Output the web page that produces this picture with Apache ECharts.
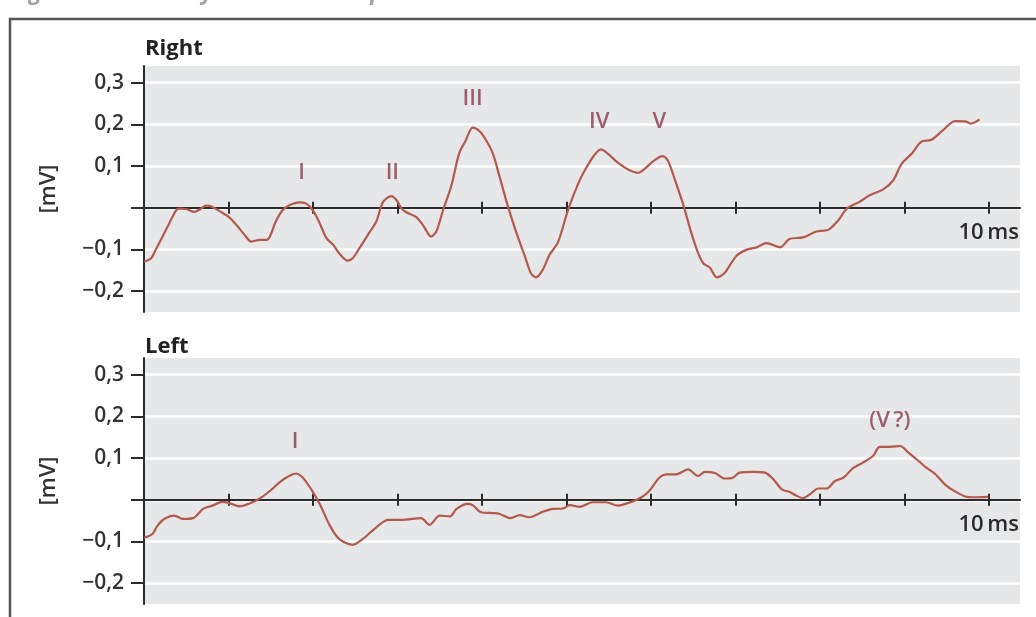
<!DOCTYPE html>
<html><head><meta charset="utf-8">
<script src="https://cdn.jsdelivr.net/npm/echarts@6/dist/echarts.min.js"></script>
<style>html,body{margin:0;padding:0;background:#fff}#c{width:1036px;height:617px}</style>
</head><body><div id="c"></div>
<script>
// ---- data (time in ms, amplitude in mV) ----
const rightTime = [0,0.085,0.14,0.22,0.30,0.38,0.42,0.5,0.6,0.66,0.74,0.81,0.91,1.01,1.11,1.19,1.27,1.37,1.45,1.49,1.56,1.64,1.72,1.84,1.92,2.0,2.08,2.16,2.24,2.31,2.41,2.47,2.55,2.65,2.75,2.83,2.93,2.99,3.05,3.10,3.22,3.30,3.40,3.46,3.54,3.64,3.73,3.81,3.89,3.97,4.05,4.13,4.21,4.31,4.41,4.51,4.58,4.64,4.72,4.80,4.90,5.02,5.14,5.23,5.33,5.41,5.49,5.61,5.73,5.85,5.93,6.03,6.14,6.20,6.28,6.38,6.48,6.56,6.62,6.70,6.78,6.87,7.01,7.13,7.25,7.37,7.53,7.64,7.80,7.96,8.10,8.22,8.32,8.47,8.59,8.75,8.87,8.97,9.09,9.20,9.32,9.46,9.60,9.72,9.79,9.89];
const rightMv = [-0.129,-0.121,-0.10,-0.069,-0.037,-0.006,-0.002,-0.003,-0.01,-0.004,0.005,0.002,-0.01,-0.023,-0.045,-0.065,-0.081,-0.077,-0.077,-0.069,-0.033,-0.006,0.006,0.013,0.01,-0.006,-0.037,-0.073,-0.089,-0.109,-0.127,-0.121,-0.097,-0.065,-0.033,0.014,0.028,0.018,-0.002,-0.01,-0.022,-0.041,-0.069,-0.057,-0.006,0.054,0.13,0.162,0.192,0.184,0.162,0.13,0.074,0.002,-0.061,-0.117,-0.157,-0.167,-0.149,-0.113,-0.083,-0.005,0.058,0.094,0.126,0.14,0.13,0.108,0.092,0.084,0.094,0.112,0.124,0.114,0.07,0.01,-0.061,-0.109,-0.133,-0.144,-0.167,-0.157,-0.116,-0.101,-0.095,-0.085,-0.095,-0.075,-0.071,-0.057,-0.053,-0.03,-0.002,0.014,0.03,0.044,0.066,0.106,0.13,0.158,0.163,0.186,0.208,0.207,0.202,0.212];

const leftTime = [0,0.10,0.16,0.24,0.36,0.46,0.58,0.70,0.81,0.93,1.01,1.13,1.25,1.37,1.49,1.60,1.70,1.80,1.88,1.98,2.08,2.20,2.29,2.37,2.47,2.59,2.75,2.89,3.06,3.28,3.38,3.50,3.62,3.70,3.83,3.89,3.99,4.13,4.21,4.33,4.45,4.56,4.72,4.84,4.96,5.04,5.16,5.31,5.47,5.61,5.77,5.89,5.98,6.10,6.18,6.30,6.44,6.56,6.64,6.76,6.87,6.97,7.05,7.21,7.35,7.45,7.55,7.64,7.72,7.80,7.90,7.98,8.08,8.18,8.28,8.39,8.51,8.63,8.71,8.83,8.95,9.05,9.17,9.26,9.36,9.48,9.60,9.72,9.81,9.99];
const leftMv = [-0.091,-0.082,-0.062,-0.046,-0.038,-0.046,-0.044,-0.022,-0.014,-0.005,-0.008,-0.016,-0.009,0.003,0.021,0.041,0.055,0.063,0.053,0.025,-0.01,-0.062,-0.09,-0.102,-0.108,-0.094,-0.066,-0.048,-0.048,-0.044,-0.06,-0.038,-0.04,-0.022,-0.01,-0.013,-0.03,-0.032,-0.034,-0.044,-0.037,-0.042,-0.029,-0.022,-0.021,-0.013,-0.017,-0.006,-0.006,-0.014,-0.005,0.006,0.021,0.053,0.061,0.061,0.073,0.057,0.067,0.064,0.051,0.053,0.065,0.067,0.065,0.049,0.025,0.019,0.01,0.004,0.016,0.027,0.027,0.045,0.053,0.075,0.089,0.105,0.127,0.127,0.129,0.113,0.093,0.077,0.063,0.037,0.02,0.008,0.006,0.007];

// wave annotations: label, time (ms), amplitude (mV) of label centre
const rightWaveNames = ['I','II','III','IV','V'];
const rightWaveTime  = [1.865, 2.94, 3.89, 5.39, 6.10];
const rightWaveMv    = [0.085, 0.085, 0.262, 0.207, 0.207];
const leftWaveNames = ['I','(V\u2009?)'];
const leftWaveTime  = [1.79, 8.83];
const leftWaveMv    = [0.139, 0.19];

const yTickValues  = [-0.2,-0.1,0,0.1,0.2,0.3];
const yLabelValues = [-0.2,-0.1,0.1,0.2,0.3];
const xTickValues  = [1,2,3,4,5,6,7,8,9,10];
const xLabelValues = [10];
const panelTitles = ['Right','Left'];
const yName = '[mV]';
const xUnit = 'ms';
const figNo = 'Fig.';
const figTitle = 'Auditory brainstem response in retrocochlear disorders';

// ---- build ----
const zip = (a,b) => a.map((v,i) => [v, b[i]]);
const FONT = "'Open Sans', sans-serif";
const INK = '#2b2b2b';
const TRACE = '#b4594d';
const WAVE = '#8a3a4a';
const Y_MIN = -0.25, Y_MAX = 0.34, X_MIN = 0, X_MAX = 10.37;

const grids = [
  {left:144, top:66, width:876, height:246},
  {left:144, top:358, width:876, height:246}
].map(g => Object.assign(g, {show:true, backgroundColor:'#e6e7e9', borderWidth:0}));

// offset that puts a bottom x axis on the y = 0 line of its grid
const zeroOffset = g => -g.height * (0 - Y_MIN) / (Y_MAX - Y_MIN);

const xAxes = [];
grids.forEach((g, gi) => {
  xAxes.push({
    type:'value', gridIndex:gi, min:X_MIN, max:X_MAX, position:'bottom', offset:zeroOffset(g),
    axisLine:{show:true, onZero:false, lineStyle:{color:INK, width:2}},
    axisTick:{show:true, customValues:xTickValues, length:6, inside:false, lineStyle:{color:INK, width:2}},
    axisLabel:{show:true, customValues:xLabelValues, formatter: v => v + '\u2009' + xUnit,
      margin:14, color:INK, fontSize:22, fontWeight:600, fontFamily:FONT},
    splitLine:{show:false}
  });
  xAxes.push({
    type:'value', gridIndex:gi, min:X_MIN, max:X_MAX, position:'bottom', offset:zeroOffset(g),
    axisLine:{show:false, onZero:false},
    axisTick:{show:true, customValues:xTickValues, length:6, inside:true, lineStyle:{color:INK, width:2}},
    axisLabel:{show:false},
    splitLine:{show:false}
  });
});

const yAxes = [0,1].map(gi => ({
  type:'value', gridIndex:gi, min:Y_MIN, max:Y_MAX,
  axisLine:{show:true, onZero:false, lineStyle:{color:INK, width:2}},
  axisTick:{show:true, customValues:yTickValues, length:13, lineStyle:{color:INK, width:2}},
  axisLabel:{customValues:yLabelValues, margin:20, color:'#333', fontSize:21, fontWeight:600, fontFamily:FONT,
    formatter: v => v.toFixed(1).replace('.', ',').replace('-', '\u2212')},
  splitLine:{show:true, lineStyle:{color:'#ffffff', width:2.5}},
  name:yName, nameLocation:'middle', nameGap:84, nameRotate:90,
  nameTextStyle:{color:'#333', fontSize:22, fontWeight:600, fontFamily:FONT}
}));

const lineSeries = (xi, yi, t, v) => ({
  type:'line', xAxisIndex:xi, yAxisIndex:yi, data:zip(t, v), showSymbol:false, symbol:'none',
  smooth:0.3, lineStyle:{color:TRACE, width:2.2}, z:3, silent:true
});
const waveSeries = (xi, yi, names, t, v) => ({
  type:'scatter', xAxisIndex:xi, yAxisIndex:yi, symbolSize:0, silent:true, z:4,
  data: names.map((n,i) => ({name:n, value:[t[i], v[i]]})),
  label:{show:true, position:'inside', formatter: p => p.name, color:WAVE, fontSize:22, fontWeight:600, fontFamily:FONT}
});

const option = {
  animation:false,
  backgroundColor:'#ffffff',
  title: panelTitles.map((t,i) => ({text:t, left:145, top: i === 0 ? 38 : 336, padding:0,
    textStyle:{color:'#222', fontSize:22, fontWeight:'bold', fontFamily:FONT}})),
  grid: grids,
  xAxis: xAxes,
  yAxis: yAxes,
  series: [
    lineSeries(0, 0, rightTime, rightMv),
    lineSeries(2, 1, leftTime, leftMv),
    waveSeries(0, 0, rightWaveNames, rightWaveTime, rightWaveMv),
    waveSeries(2, 1, leftWaveNames, leftWaveTime, leftWaveMv)
  ],
  graphic: [
    {type:'polyline', shape:{points:[[10,617],[10,19],[1036,19]]}, style:{stroke:'#555', lineWidth:2.5, fill:null}, silent:true},
    {type:'text', x:10, y:4, style:{text:figNo, font:"italic bold 23px 'Open Sans', sans-serif", fill:'#a3a3a3', verticalAlign:'bottom'}, silent:true},
    {type:'text', x:120, y:4, style:{text:figTitle, font:"italic bold 23px 'Open Sans', sans-serif", fill:'#a3a3a3', verticalAlign:'bottom'}, silent:true}
  ]
};
const chart = echarts.init(document.getElementById('c'), null, {renderer:'canvas'});
chart.setOption(option);
</script></body></html>
